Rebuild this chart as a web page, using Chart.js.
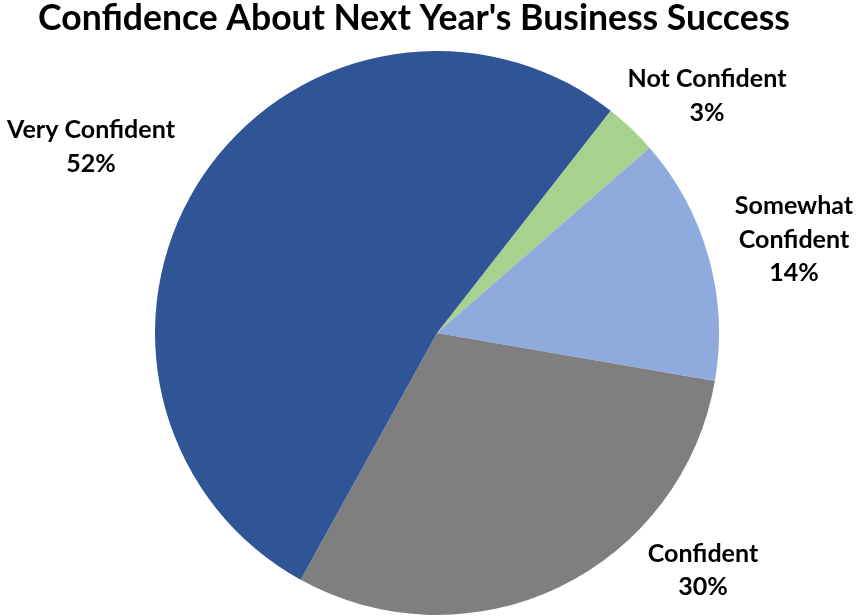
<!DOCTYPE html>
<html>
<head>
<meta charset="utf-8">
<script src="https://cdn.jsdelivr.net/npm/chart.js@4.4.1/dist/chart.umd.min.js"></script>
<style>
html,body{margin:0;padding:0;background:#fff;}
#wrap{width:858px;height:616px;position:relative;}
</style>
</head>
<body>
<div id="wrap"><canvas id="c"></canvas></div>
<script>
// ---- data ----
const categories = ["Not Confident", "Somewhat Confident", "Confident", "Very Confident"];
const values = [3, 14, 30, 52];
const labelLines = [["Not Confident", "3%"], ["Somewhat", "Confident", "14%"], ["Confident", "30%"], ["Very Confident", "52%"]];
const titleText = "Confidence About Next Year's Business Success";

// ---- styling ----
const colors = ["#A9D18E", "#8FAADC", "#7F7F7F", "#2F5597"];
const labelAnchors = [ {x: 707, y: 87.3}, {x: 794, y: 214}, {x: 703, y: 561.7}, {x: 91, y: 138.3} ];
const FONT = "Lato, 'Open Sans', sans-serif";

const textPlugin = {
  id: 'textPlugin',
  afterDraw(chart) {
    const ctx = chart.ctx;
    ctx.save();
    ctx.fillStyle = '#000';
    ctx.textAlign = 'center';
    ctx.textBaseline = 'alphabetic';
    // title: size chosen so its width matches the reference
    ctx.font = "bold 30px " + FONT;
    const tw = ctx.measureText(titleText).width;
    const ts = 30 * 752 / tw;
    ctx.font = "bold " + ts.toFixed(2) + "px " + FONT;
    ctx.fillText(titleText, 414, 29.5);
    // labels: size chosen from "Very Confident" width (168px)
    ctx.font = "bold 24px " + FONT;
    const lw = ctx.measureText("Very Confident").width;
    const ls = 24 * 168 / lw;
    ctx.font = "bold " + ls.toFixed(2) + "px " + FONT;
    labelLines.forEach((lines, i) => {
      const a = labelAnchors[i];
      lines.forEach((t, j) => {
        ctx.fillText(t, a.x, a.y + j * 33.5);
      });
    });
    ctx.restore();
  }
};

new Chart(document.getElementById('c'), {
  type: 'pie',
  data: {
    labels: categories,
    datasets: [{
      data: values,
      backgroundColor: colors,
      borderWidth: 0,
      hoverOffset: 0
    }]
  },
  options: {
    responsive: true,
    maintainAspectRatio: false,
    animation: false,
    rotation: 38,
    layout: { padding: { top: 51, bottom: 1, left: 155, right: 139 } },
    plugins: {
      legend: { display: false },
      title: { display: false },
      tooltip: { enabled: false }
    }
  },
  plugins: [textPlugin]
});
</script>
</body>
</html>
